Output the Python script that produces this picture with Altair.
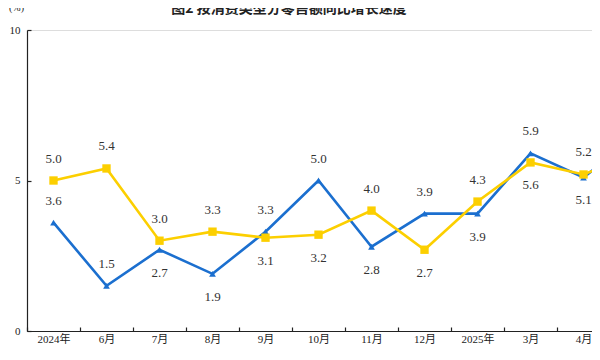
import altair as alt
import pandas as pd

# ---- data ----
months = ["2024年\n5月", "6月", "7月", "8月", "9月", "10月", "11月", "12月",
          "2025年\n1-2月", "3月", "4月", "5月"]
goods = [3.6, 1.5, 2.7, 1.9, 3.3, 5.0, 2.8, 3.9, 3.9, 5.9, 5.1, 6.5]        # 商品零售 (blue)
catering = [5.0, 5.4, 3.0, 3.3, 3.1, 3.2, 4.0, 2.7, 4.3, 5.6, 5.2, 5.9]     # 餐饮收入 (yellow)
goods_label_side = ["above", "above", "below", "below", "above", "above",
                    "below", "above", "below", "above", "below", "above"]
catering_label_side = ["above", "above", "above", "above", "below", "below",
                       "above", "below", "above", "below", "above", "above"]
y_ticks = [0, 5, 10]
title_text = "图2 按消费类型分零售额同比增长速度"
unit_text = "(%)"

rows = []
for i in range(len(months)):
    rows.append({"idx": i, "series": "商品零售", "value": goods[i], "side": goods_label_side[i]})
    rows.append({"idx": i, "series": "餐饮收入", "value": catering[i], "side": catering_label_side[i]})
df = pd.DataFrame(rows)

FONT = "Liberation Serif, Noto Sans CJK SC"
BLUE = "#1b6fcf"
YELLOW = "#fccf00"
TXT = "#333333"

n_vis = 11          # categories visible in the window
STEP = 53           # pixel width of one month slot


def label_expr(line_no):
    expr = "''"
    for i in reversed(range(n_vis)):
        parts = months[i].split("\n")
        s = parts[line_no] if line_no < len(parts) else ""
        expr = f"datum.value == {i} ? '{s}' : ({expr})"
    return expr


x_label_values = list(range(n_vis))

x_scale = alt.Scale(domain=[-0.5, 10.16], nice=False, zero=False)
y_scale = alt.Scale(domain=[0, 10], nice=False, zero=True)

x_axis = alt.Axis(
    values=x_label_values, orient="bottom",
    labelExpr=label_expr(0),
    title=None, grid=False, domainColor="#222222", domainWidth=1.2,
    tickColor="#222222", tickWidth=1.2, tickSize=alt.ExprRef("-4"),
    tickOffset=-STEP / 2, labelOffset=STEP / 2,
    labelFont=FONT, labelFontSize=11, labelColor="#222222", labelPadding=6,
    labelOverlap=False, labelFlush=False, labelBound=False,
)
x_axis2 = alt.Axis(
    values=x_label_values, orient="bottom",
    labelExpr=label_expr(1),
    title=None, grid=False, domain=False, ticks=False,
    labelFont=FONT, labelFontSize=11, labelColor="#222222", labelPadding=14,
    labelOverlap=False, labelFlush=False, labelBound=False,
)
y_axis = alt.Axis(
    values=y_ticks, title=None, grid=False, domainColor="#222222", domainWidth=1.2,
    tickColor="#222222", tickWidth=1.2, tickSize=alt.ExprRef("-4"),
    labelFont=FONT, labelFontSize=11, labelColor="#222222", labelPadding=11,
)

base = alt.Chart(df)


def series_layers(name, color, shape, size, xaxis):
    d = base.transform_filter(alt.datum.series == name)
    line = d.mark_line(color=color, strokeWidth=2.6, clip=True).encode(
        x=alt.X("idx:Q", scale=x_scale, axis=xaxis),
        y=alt.Y("value:Q", scale=y_scale, axis=y_axis),
    )
    pts = d.mark_point(shape=shape, filled=True, color=color, size=size, opacity=1, clip=True).encode(
        x=alt.X("idx:Q", scale=x_scale), y=alt.Y("value:Q", scale=y_scale)
    )
    above = d.transform_filter(alt.datum.side == "above").mark_text(
        font=FONT, fontSize=13, color=TXT, dy=-22, clip=True
    ).encode(x=alt.X("idx:Q", scale=x_scale), y=alt.Y("value:Q", scale=y_scale),
             text=alt.Text("value:Q", format=".1f"))
    below = d.transform_filter(alt.datum.side == "below").mark_text(
        font=FONT, fontSize=13, color=TXT, dy=23, clip=True
    ).encode(x=alt.X("idx:Q", scale=x_scale), y=alt.Y("value:Q", scale=y_scale),
             text=alt.Text("value:Q", format=".1f"))
    return alt.layer(line, pts, above, below)


title_df = pd.DataFrame({"t": [title_text]})
title_mark = alt.Chart(title_df).mark_text(
    font="Noto Sans CJK SC", fontSize=14, fontWeight="bold", color="#222222",
    align="center", baseline="alphabetic"
).encode(x=alt.value(262), y=alt.value(-17), text="t:N")
unit_df = pd.DataFrame({"t": [unit_text]})
unit_mark = alt.Chart(unit_df).mark_text(
    font=FONT, fontSize=10, color="#222222", align="left", baseline="alphabetic"
).encode(x=alt.value(-18), y=alt.value(-19), text="t:N")

blue = series_layers("商品零售", BLUE, "triangle-up", 45, x_axis)
yellow = series_layers("餐饮收入", YELLOW, "square", 70, x_axis2)

chart = alt.layer(blue, yellow, title_mark, unit_mark).resolve_axis(x="independent").properties(
    width=565, height=301,
    autosize=alt.AutoSizeParams(type="none"),
    padding={"left": 19, "top": 22, "right": 0, "bottom": 15},
).configure_view(stroke=None).configure(background="white")

chart.save("out.html", embed_options={"renderer": "svg", "actions": False})
